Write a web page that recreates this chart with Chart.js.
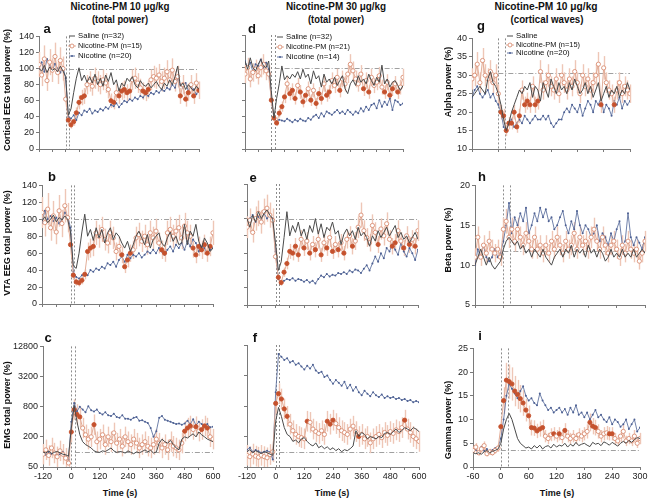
<!DOCTYPE html>
<html><head><meta charset="utf-8">
<script src="https://cdn.jsdelivr.net/npm/chart.js@4.4.1/dist/chart.umd.min.js"></script>
<style>
html,body{margin:0;padding:0;background:#fff}
body{width:654px;height:504px;position:relative;overflow:hidden;font-family:"Liberation Sans",Arial,sans-serif}
canvas{position:absolute}
.t{position:absolute;white-space:nowrap;color:#111;line-height:1}
</style></head><body>
<script>
// ---------- DATA ----------
const timeLong = [-120,-108,-96,-84,-72,-60,-48,-36,-24,-12,0,12,24,36,48,60,72,84,96,108,120,132,144,156,168,180,192,204,216,228,240,252,264,276,288,300,312,324,336,348,360,372,384,396,408,420,432,444,456,468,480,492,504,516,528,540,552,564,576,588,600];
const timeShort = [-60,-54,-48,-42,-36,-30,-24,-18,-12,-6,0,6,12,18,24,30,36,42,48,54,60,66,72,78,84,90,96,102,108,114,120,126,132,138,144,150,156,162,168,174,180,186,192,198,204,210,216,222,228,234,240,246,252,258,264,270,276,282,288,294,300];

const xTicksLong = [-120,-60,0,60,120,180,240,300,360,420,480,540,600];
const xTicksShort = [-60,0,60,120,180,240,300];
const yTicksEEG = [0,20,40,60,80,100,120,140];
const yTicksEMG = [50,200,800,3200,12800];
const yTicksAlpha = [10,15,20,25,30,35,40];
const yTicksBeta = [5,10,15,20];
const yTicksGamma = [0,5,10,15,20,25];
const eventTimes = [0,15];

// a: cortical EEG, Nicotine-PM 10
const aSaline = [100,97,104,95,102,98,100,96,103,97,
 90,42,50,70,88,101,85,92,83,90,
 82,93,80,88,78,92,84,95,80,86,
 72,82,78,88,84,90,80,76,85,80,
 78,82,76,80,84,78,74,82,78,86,
 80,90,103,78,82,74,80,76,72,78,
 74];
const aNicotinePM = [105,92,112,85,108,98,115,95,110,100,
 62,36,30,34,45,58,64,66,80,84,
 78,88,84,80,86,82,74,60,58,70,
 66,72,74,70,72,86,88,82,76,72,
 70,74,86,90,88,92,84,88,96,86,
 98,84,90,66,80,62,70,80,66,82,
 73];
const aNicotine = [100,108,96,112,104,98,106,100,95,102,
 88,40,38,42,36,45,42,48,46,50,
 44,48,46,50,48,52,50,55,53,57,
 52,56,60,58,62,60,64,62,66,64,
 68,66,70,68,72,70,74,72,76,74,
 80,76,88,80,76,82,72,78,74,68,
 72];
const aSig = [11,12,13,14,15,16,17,27,28,30,31,32,33,34,39,40,41,53,55,56,58,60];

// b: VTA EEG, Nicotine-PM 10
const bSaline = [98,103,96,100,105,97,102,99,104,100,
 85,45,42,60,85,106,80,88,75,90,
 78,88,72,84,90,76,84,80,72,66,
 74,62,70,80,86,78,70,82,66,76,
 80,84,72,68,78,85,74,80,70,72,
 94,70,86,80,94,74,66,78,72,62,
 66];
const bNicotinePM = [108,96,112,90,104,85,110,95,116,102,
 70,34,26,25,28,35,62,66,68,84,
 80,88,76,72,84,78,62,68,58,44,
 52,60,64,78,82,74,80,70,84,78,
 86,72,64,60,84,88,80,86,90,78,
 92,84,80,66,58,68,64,70,60,68,
 84];
const bNicotine = [96,110,100,104,98,102,95,100,108,104,
 90,38,32,30,34,36,34,40,38,42,
 40,44,42,48,46,50,44,52,56,50,
 58,54,58,56,60,55,58,62,60,64,
 60,66,62,58,64,68,62,70,66,72,
 64,74,68,76,72,62,68,66,60,64,
 66];
const bSig = [10,11,12,13,14,15,16,17,18,28,29,30,31,42,43,53,54,55,56,57,58,59];

// c: EMG, Nicotine-PM 10
const cSaline = [100,95,105,92,98,102,96,90,88,82,
 300,850,400,220,160,140,130,120,105,100,
 98,105,102,110,120,105,98,102,100,95,
 105,98,92,100,96,102,110,100,108,95,
 100,150,180,160,150,170,140,120,110,180,
 200,190,210,230,200,250,220,200,180,170,
 160];
const cNicotinePM = [90,110,85,120,95,80,105,90,75,60,
 250,700,560,500,300,220,180,200,350,160,
 180,220,140,200,160,240,150,180,130,200,
 160,140,180,150,120,140,160,130,120,140,
 180,150,120,140,110,160,130,120,110,150,
 260,300,330,280,320,260,280,330,300,200,
 180];
const cNicotine = [95,88,100,92,96,85,90,100,80,70,
 400,950,650,800,700,620,820,680,640,700,
 600,560,620,540,520,580,500,480,540,460,
 460,440,480,500,420,430,400,380,300,200,
 260,480,520,440,420,400,380,360,370,350,
 370,420,360,450,340,400,360,330,360,310,
 320];
const cSig = [10,11,12,13,18,50,51,52,54,56,57,58];

// d: cortical EEG, Nicotine-PM 30
const dSaline = [108,98,112,100,96,104,110,102,100,108,
 70,38,62,80,102,85,90,86,92,88,
 95,86,98,88,92,80,96,86,90,76,
 92,82,86,80,88,78,84,90,74,68,
 80,85,78,90,82,86,80,92,84,78,
 88,82,103,80,86,76,82,84,78,72,
 78];
const dNicotinePM = [92,100,86,94,98,90,100,104,96,92,
 60,38,32,44,52,64,80,68,72,62,
 78,70,58,66,74,60,72,56,68,62,
 80,66,70,84,78,88,72,86,80,92,
 104,96,86,80,92,74,84,70,88,78,
 82,90,76,70,82,66,74,80,70,76,
 88];
const dNicotine = [108,100,106,95,104,102,110,100,106,98,
 60,38,34,36,35,34,37,35,33,36,
 34,37,35,34,38,36,40,42,38,44,
 40,46,44,42,45,48,44,46,43,48,
 45,42,46,44,50,46,52,48,54,56,
 50,60,52,58,54,62,48,60,58,54,
 56];
const dSig = [10,11,12,13,14,15,17,18,19,21,22,23,25,27,28,29,31,32,36,45,47,53,55,56,58];

// e: VTA EEG, Nicotine-PM 30
const eSaline = [100,90,104,96,108,100,106,110,104,100,
 72,40,50,78,108,80,92,84,96,80,
 88,76,92,84,100,82,94,78,90,86,
 96,82,86,70,82,88,80,86,76,90,
 80,84,78,68,80,74,86,78,84,90,
 80,86,92,78,84,76,80,72,78,84,
 76];
const eNicotinePM = [90,98,84,100,106,96,108,112,104,98,
 56,32,26,38,48,62,60,68,58,76,
 66,74,60,70,64,76,58,72,66,78,
 62,70,64,72,60,76,80,68,74,90,
 104,86,78,72,92,84,70,88,80,94,
 76,68,72,86,74,66,80,70,76,68,
 86];
const eNicotine = [98,100,104,96,102,98,106,100,104,100,
 62,30,26,28,30,29,31,28,30,29,
 27,29,26,28,25,30,34,32,36,33,
 35,34,37,36,38,36,40,38,41,40,
 37,42,46,40,48,56,50,60,54,66,
 62,70,64,58,72,62,56,66,60,52,
 64];
const eSig = [11,12,13,14,15,16,17,18,20,22,24,26,28,30,32,34,37,46,51,52,55,57,59];

// f: EMG, Nicotine-PM 30
const fSaline = [100,110,95,105,98,92,100,96,90,85,
 400,750,500,300,220,200,160,170,150,180,
 190,160,140,130,150,120,130,115,125,110,
 120,105,115,100,110,105,115,130,260,200,
 240,220,180,200,190,180,200,190,230,240,
 220,250,280,240,260,300,280,260,300,280,
 250];
const fNicotinePM = [85,80,90,82,78,85,80,76,88,100,
 900,1400,1100,700,500,350,260,220,200,190,
 180,400,380,280,250,230,260,220,400,350,
 420,360,300,260,240,220,280,320,250,200,
 220,180,200,150,180,200,220,190,240,210,
 250,230,270,250,300,420,280,240,200,180,
 160];
const fNicotine = [110,120,100,108,102,96,100,105,98,70,
 1500,8500,7500,6500,7000,5800,6200,5200,5600,4800,
 4200,5000,4400,5200,4000,3600,3800,3000,3200,2600,
 2200,2600,2300,2000,2400,1800,2100,1600,1900,1500,
 1300,1600,1400,1250,1500,1300,1200,1350,1150,1250,
 1150,1200,1100,1150,1050,1100,1000,1050,950,1000,
 950];
const fSig = [10,11,12,13,14,21,28,29,30,39,55];

// g: alpha power, Nicotine-PM 10
const gSaline = [24,25,26,27,26,25,29,31,28,27,
 25,22,18,15,17,20,22,24,26,25,
 27,26,28,24,27,26,23,28,26,24,
 29,27,25,28,26,27,25,28,26,29,
 27,25,26,28,25,27,24,26,28,23,
 25,27,24,26,25,27,24,26,25,28,
 26];
const gNicotinePM = [29,30,33,28,34,30,29,31,28,30,
 25,20,19,15,17,17,20,16,19,26,
 22,23,22,27,22,23,31,26,28,30,
 27,26,29,25,30,28,26,29,27,31,
 28,25,30,27,29,26,28,30,33,22,
 32,28,26,25,22,26,28,25,27,26,
 25];
const gNicotine = [24,26,27,25,24,25,26,24,25,23,
 22,20,16,15,17,18,16,17,18,17,
 19,18,17,18,19,18,18,19,18,19,
 17,16,17,18,18,20,21,20,22,21,
 20,22,19,21,23,22,20,23,22,24,
 20,22,21,19,23,22,24,21,23,22,
 23];
const gSig = [11,12,13,14,15,16,17,18,20,21,22,24,25,49,54];

// h: beta power, Nicotine-PM 10
const hSaline = [10,11,12,11,10,11,10,9.5,10,10.5,
 12,13,13.5,13,12.5,13,12,12.5,11.5,12,
 11,12,11.5,11,12,11,10.5,10,11,11.5,
 12,11,12,11.5,12.5,11,12,11.5,12,11,
 12.5,11.5,12,11,12,11.5,10.5,11,12,11,
 11.5,11,12,11,11.5,11,12,11,11.5,12,
 11.5];
const hNicotinePM = [11,13.5,11,12.5,11.5,13,12,11.5,12,11,
 14.5,15.5,13.5,14.5,13,14.5,13.5,12.5,14,13,
 12,13.5,12,12.5,11.5,12.5,11.5,13,12,13.5,
 12.5,11.5,13,12,12.5,14,12,13.5,12.5,13,
 12,13.5,14.5,13,12,13.5,12.5,11.5,12.5,13,
 12,11,12.5,11.5,13,12,11.5,12,10.5,11.5,
 13];
const hNicotine = [10,12,11,12.5,11,10.5,11,12,11,11.5,
 13,15,17.8,14,16,15,16.5,15.5,17.2,14,
 15,16.5,15.5,17.2,16,17,15.5,16,14.5,15,
 16,16.8,15,14,15.5,14.5,16.8,15,14,15,
 14.5,13.5,14,15,13,14,13.5,12.5,14,13,
 14.5,15.5,12.5,13,16.5,13.5,12.5,13.5,12.8,12,
 13.5];
const hSig = [];

// i: gamma power, Nicotine-PM 10
const iSaline = [3,2.8,3,2.7,3.2,3.5,3,3.3,3.5,3.8,
 5,8,10,11.3,10,8,6,5,4.5,4,
 4.2,3.8,4.5,4,4.6,3.8,4.3,4.5,4,4.8,
 4.2,4.6,4.4,5,4.2,4.8,4.4,5.2,4.5,4.8,
 5,4.6,4.3,5.2,4.8,5,4.5,5.3,5,4.6,
 5.2,4.8,4.4,5,5.4,5,5.6,5.2,5.8,6.2,
 6];
const iNicotinePM = [3.5,4.2,3,3.8,4.5,2.8,3.2,3,3.5,4,
 8.5,14,18.3,18,17.5,16,15.3,14.4,13.5,12,
 10.8,8.3,8.2,7.6,8,8.3,6.5,6,6.8,7,
 6.5,7,6.2,7.7,6.5,6,6.5,6,6.8,6.5,
 7,7.5,9.4,8.6,8.3,7.5,6.5,7,7.2,7,
 7,6,5.5,6.5,7.5,5.5,6,5.5,6.5,5,
 6];
const iNicotine = [3.2,3.6,3,4.2,3.4,3.8,3.2,3.6,4,4.2,
 6,10,15,17.5,16.5,15.5,14.5,16,17,15,
 14,14.5,13.5,13,15.5,14,13,12,12.5,11.5,
 12,12.5,11.5,12.2,11,12.5,11.5,13,11,11.5,
 10.5,11.5,10,11,12,10.5,11,10,9.5,10.5,
 9,10,9.5,8.5,9,10,8,9,10,7.5,
 8.3];
const iSig = [10,11,12,13,14,15,16,17,18,19,20,21,22,23,24,25,29,31,33,42,43,44,49,50];

// baseline (100% / pre-injection) levels and relative SEM of Nicotine-PM, per panel a..i
const baselines = [100,100,100,100,100,100,30.5,11.8,3.6];
const pmRelErr = [0.15,0.17,0.6,0.12,0.14,0.6,0.1,0.1,0.2];

const legendA = ['Saline (n=32)','Nicotine-PM (n=15)','Nicotine (n=20)'];
const legendD = ['Saline (n=32)','Nicotine-PM (n=21)','Nicotine (n=14)'];
const legendG = ['Saline','Nicotine-PM (n=15)','Nicotine (n=20)'];

// ---------- DRAWING ----------
Chart.defaults.font.family = '"Liberation Sans", Arial, sans-serif';
Chart.defaults.color = '#222';

const COL = {sal:'#4a4a4a', pmLine:'#e2ad98', pmOpen:'#d98d73', pmFill:'#c5512d', err:'#eec6b6', nic:'#6073a0', axis:'#7a7a7a'};

const decor = {
  id:'decor',
  beforeDatasetsDraw(chart, args, o){
    const {ctx, chartArea:a} = chart, x = chart.scales.x, y = chart.scales.y;
    ctx.save();
    ctx.lineWidth = 1;
    ctx.strokeStyle = '#8c8c8c'; ctx.setLineDash([2,2]);
    o.events.forEach(t => {
      const px = Math.round(x.getPixelForValue(t)) + 0.5;
      ctx.beginPath(); ctx.moveTo(px, a.top); ctx.lineTo(px, a.bottom); ctx.stroke();
    });
    ctx.strokeStyle = '#a0a0a0'; ctx.setLineDash([5,2,1,2]);
    const py = Math.round(y.getPixelForValue(o.base)) + 0.5;
    ctx.beginPath(); ctx.moveTo(x.getPixelForValue(o.events[o.lineFrom]), py); ctx.lineTo(a.right, py); ctx.stroke();
    ctx.setLineDash([]); ctx.strokeStyle = COL.err; ctx.lineWidth = 1.4;
    chart.data.datasets[1].data.forEach(p => {
      const hi = p.y * (1 + o.err);
      const lo = o.log ? p.y / (1 + o.err) : p.y * (1 - o.err);
      const px = Math.round(x.getPixelForValue(p.x)) + 0.5;
      ctx.beginPath();
      ctx.moveTo(px, Math.max(a.top, y.getPixelForValue(hi)));
      ctx.lineTo(px, Math.min(a.bottom, y.getPixelForValue(lo)));
      ctx.stroke();
    });
    ctx.restore();
  }
};

function pts(t, v){ return v.map((y, i) => ({x:t[i], y:y})); }

const panels = [
 {sal:aSaline, pm:aNicotinePM, nic:aNicotine, sig:aSig, t:timeLong, xt:xTicksLong, xl:120, yr:[0,140], yt:yTicksEEG, log:false, showX:false, showY:true,  geo:[39,199,35,149,0,8]},
 {sal:bSaline, pm:bNicotinePM, nic:bNicotine, sig:bSig, t:timeLong, xt:xTicksLong, xl:120, yr:[0,140], yt:yTicksEEG, log:false, showX:false, showY:true,  geo:[42,213,184,304,0,8]},
 {sal:cSaline, pm:cNicotinePM, nic:cNicotine, sig:cSig, t:timeLong, xt:xTicksLong, xl:120, yr:[50,12800], yt:yTicksEMG, log:true, showX:true, showY:true,  geo:[43,213,345,467,0,20]},
 {sal:dSaline, pm:dNicotinePM, nic:dNicotine, sig:dSig, t:timeLong, xt:xTicksLong, xl:120, yr:[0,140], yt:yTicksEEG, log:false, showX:false, showY:false, geo:[245,403,35,149,225,8]},
 {sal:eSaline, pm:eNicotinePM, nic:eNicotine, sig:eSig, t:timeLong, xt:xTicksLong, xl:120, yr:[0,140], yt:yTicksEEG, log:false, showX:false, showY:false, geo:[247,418,184,305,225,8]},
 {sal:fSaline, pm:fNicotinePM, nic:fNicotine, sig:fSig, t:timeLong, xt:xTicksLong, xl:120, yr:[50,12800], yt:yTicksEMG, log:true, showX:true, showY:false, geo:[247,419,345,467,225,20]},
 {sal:gSaline, pm:gNicotinePM, nic:gNicotine, sig:gSig, t:timeShort, xt:xTicksShort, xl:60, yr:[10,40], yt:yTicksAlpha, log:false, showX:false, showY:true, geo:[472,630,37,149,440,8]},
 {sal:hSaline, pm:hNicotinePM, nic:hNicotine, sig:hSig, t:timeShort, xt:xTicksShort, xl:60, yr:[5,20], yt:yTicksBeta, log:false, showX:false, showY:true, geo:[475,645,184,305,440,8]},
 {sal:iSaline, pm:iNicotinePM, nic:iNicotine, sig:iSig, t:timeShort, xt:xTicksShort, xl:60, yr:[0,25], yt:yTicksGamma, log:false, showX:true, showY:true, geo:[473,640,347,467,440,20]}
];

panels.forEach((p, k) => {
  const [L,R,T,B,cx,H] = p.geo;
  const c = document.createElement('canvas');
  const W = R - cx + 12, Hc = B - T + 6 + H;
  c.width = W; c.height = Hc;
  c.style.left = cx + 'px'; c.style.top = (T - 6) + 'px';
  c.style.width = W + 'px'; c.style.height = Hc + 'px';
  document.body.appendChild(c);
  const sig = new Set(p.sig);
  const gridOpt = {drawOnChartArea:false, drawTicks:true, tickLength:3, color:COL.axis, lineWidth:1};
  const borderOpt = {display:true, color:COL.axis, width:1};
  new Chart(c, {
    type:'line',
    data:{datasets:[
      {label:'Saline', data:pts(p.t, p.sal), borderColor:COL.sal, borderWidth:1, pointRadius:0, tension:0},
      {label:'Nicotine-PM', data:pts(p.t, p.pm), borderColor:COL.pmLine, borderWidth:1, pointRadius:2.1, pointBorderWidth:0.9,
        pointBackgroundColor:p.pm.map((v,i) => sig.has(i) ? COL.pmFill : '#ffffff'),
        pointBorderColor:p.pm.map((v,i) => sig.has(i) ? COL.pmFill : COL.pmOpen)},
      {label:'Nicotine', data:pts(p.t, p.nic), borderColor:COL.nic, borderWidth:0.9, pointRadius:1, pointBorderWidth:0, pointBackgroundColor:'#4d6093'}
    ]},
    options:{
      responsive:false, animation:false, devicePixelRatio:1,
      layout:{padding:{top:6, right:12, left:0, bottom:0}},
      plugins:{legend:{display:false}, tooltip:{enabled:false},
        decor:{events:eventTimes, base:baselines[k], err:pmRelErr[k], log:p.log, lineFrom:(k < 6 ? 1 : 0)}},
      scales:{
        x:{type:'linear', min:p.t[0], max:p.t[p.t.length-1],
          afterFit(s){ s.height = H; },
          afterBuildTicks(s){ s.ticks = p.xt.map(v => ({value:v})); },
          ticks:{display:p.showX, autoSkip:false, maxRotation:0, padding:1, font:{size:9}, color:'#222',
            callback:(v) => (v % p.xl === 0 ? String(v) : '')},
          grid:gridOpt, border:borderOpt},
        y:{type:p.log ? 'logarithmic' : 'linear', min:p.yr[0], max:p.yr[1],
          afterFit(s){ s.width = L - cx; },
          afterBuildTicks(s){ s.ticks = p.yt.map(v => ({value:v})); },
          ticks:{display:p.showY, autoSkip:false, padding:2, font:{size:9}, color:'#222', callback:(v) => String(v)},
          grid:gridOpt, border:borderOpt}
      }
    },
    plugins:[decor]
  });
});

// ---------- TEXT ----------
function addText(txt, x, y, o){
  const d = document.createElement('div');
  d.className = 't';
  d.textContent = txt;
  d.style.fontSize = (o.size || 9) + 'px';
  d.style.fontWeight = o.bold ? 'bold' : 'normal';
  d.style.left = x + 'px'; d.style.top = y + 'px';
  document.body.appendChild(d);
  let k = 1;
  if (o.w) k = o.w / d.offsetWidth;
  if (o.rot) {
    d.style.transform = 'translate(-50%,-50%) rotate(-90deg) scaleX(' + k + ')';
  } else if (o.left) {
    d.style.transformOrigin = 'left center';
    d.style.transform = 'translateY(-50%) scaleX(' + k + ')';
  } else {
    d.style.transform = 'translate(-50%,-50%) scaleX(' + k + ')';
  }
  return d;
}

addText('Nicotine-PM 10 μg/kg', 120, 7, {size:10, bold:true, w:99});
addText('(total power)', 120, 20, {size:10, bold:true, w:56});
addText('Nicotine-PM 30 μg/kg', 336, 7, {size:10, bold:true, w:100});
addText('(total power)', 336, 20, {size:10, bold:true, w:56});
addText('Nicotine-PM 10 μg/kg', 546, 7, {size:10, bold:true, w:103});
addText('(cortical waves)', 547, 20, {size:10, bold:true, w:73});

[['a',47,28],['b',52,176],['c',48,337],['d',252,28],['e',253,177],['f',255,337],['g',481,25],['h',482,176],['i',480,335]]
  .forEach(([s,x,y]) => addText(s, x, y, {size:13, bold:true}));

addText('Cortical EEG total power (%)', 7, 90, {size:9, bold:true, rot:true});
addText('VTA EEG total power (%)', 7, 243, {size:9, bold:true, rot:true});
addText('EMG total power (%)', 7, 405, {size:9, bold:true, rot:true});
addText('Alpha power (%)', 448, 82, {size:9, bold:true, rot:true});
addText('Beta power (%)', 448, 240, {size:9, bold:true, rot:true});
addText('Gamma power (%)', 448, 420, {size:9, bold:true, rot:true});

addText('Time (s)', 120, 493, {size:9, bold:true});
addText('Time (s)', 332, 493, {size:9, bold:true});
addText('Time (s)', 557, 493, {size:9, bold:true});

function legendMarker(kind, x, y){
  const s = document.createElementNS('http://www.w3.org/2000/svg','svg');
  s.setAttribute('width','8'); s.setAttribute('height','6');
  s.style.position = 'absolute'; s.style.left = (x - 4) + 'px'; s.style.top = (y - 3) + 'px';
  if (kind === 0) s.innerHTML = '<line x1="1" y1="3" x2="7" y2="3" stroke="#4a4a4a" stroke-width="1"/>';
  if (kind === 1) s.innerHTML = '<line x1="0" y1="3" x2="8" y2="3" stroke="#e2ad98" stroke-width="1"/><circle cx="4" cy="3" r="2" fill="#fff" stroke="#d98d73" stroke-width="0.9"/>';
  if (kind === 2) s.innerHTML = '<line x1="1" y1="3" x2="7" y2="3" stroke="#6073a0" stroke-width="1"/><circle cx="4" cy="3" r="1" fill="#4d6093"/>';
  document.body.appendChild(s);
}
function legend(items, mx, tx, ys){
  items.forEach((txt, i) => {
    legendMarker(i, mx, ys[i]);
    addText(txt, tx, ys[i], {size:8, left:true, w:txt.length * 3.55});
  });
}
legend(legendA, 72, 78, [36, 46, 56]);
legend(legendD, 280, 286, [37, 47, 57]);
legend(legendG, 510, 516, [36, 45, 53]);
</script>
</body></html>
